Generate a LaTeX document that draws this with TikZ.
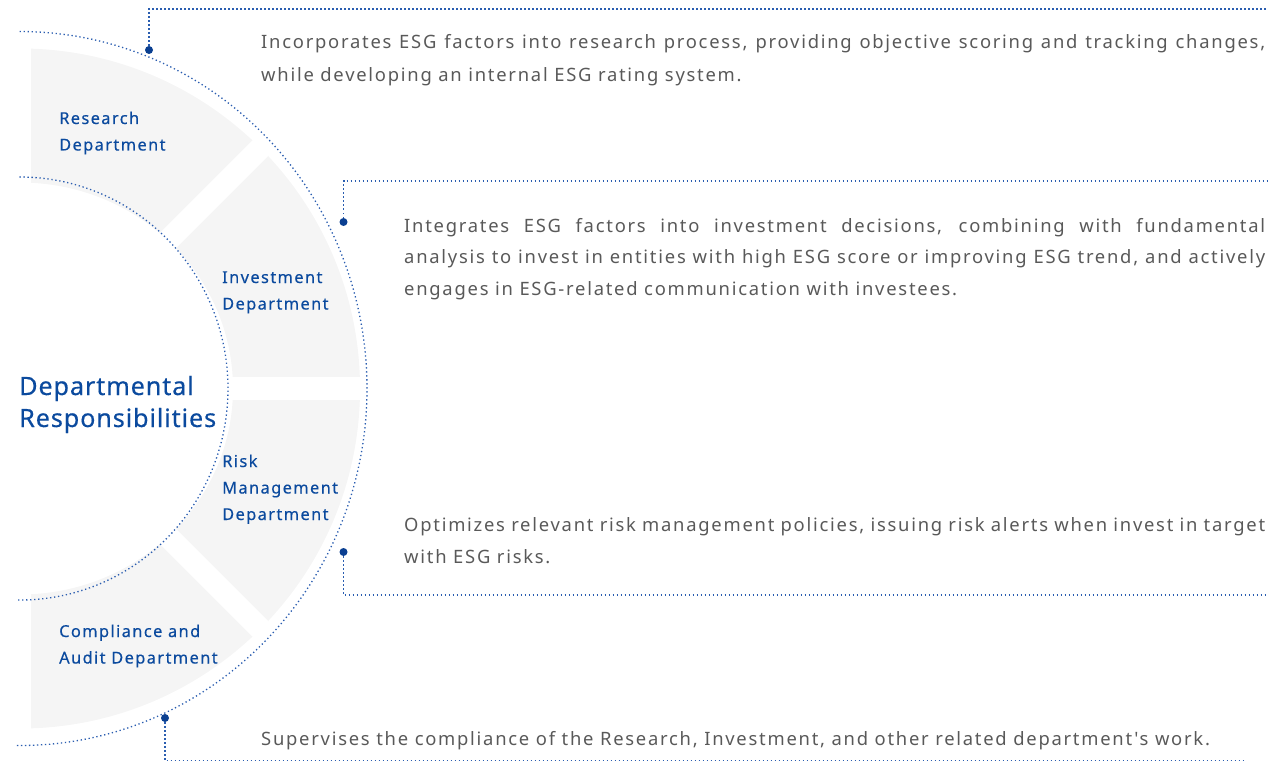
\documentclass[tikz,border=0pt]{standalone}
\usepackage{fontspec}
\setmainfont{Noto Sans}
\newfontfamily\descfont[LetterSpace=9.5]{Noto Sans}
\newfontfamily\deptfont[LetterSpace=8.5,FakeBold=0.35]{Noto Sans}
\newfontfamily\headfont[LetterSpace=3.5,FakeBold=0.35]{Noto Sans}
\definecolor{ringgray}{HTML}{F5F5F5}
\definecolor{textgray}{HTML}{595959}
\definecolor{labelblue}{HTML}{0B4A9E}
\definecolor{dotblue}{HTML}{2A5DB0}
\definecolor{dotdark}{HTML}{0A3F91}
\newcommand\jline[2]{\makebox[#1][s]{#2}}
\begin{document}
\begin{tikzpicture}[x=1pt,y=-1pt,
  dotline/.style={draw=dotblue, line width=1.3pt, dash pattern=on 1.3pt off 2.7pt},
  enddot/.style={circle, fill=dotdark, inner sep=0pt, minimum size=8pt},
  desc/.style={anchor=base west, inner sep=0pt, text=textgray},
  dept/.style={anchor=base west, inner sep=0pt, text=labelblue},
  gapband/.style={draw=white, line width=22pt}
]
\useasboundingbox (0,0) rectangle (1271,762);
% ring segments
\begin{scope}
  \clip (31,0) rectangle (1271,762);
  \fill[ringgray, even odd rule] (20,388.5) ellipse[x radius=340, y radius=340]
        (20,388.5) ellipse[x radius=213, y radius=206];
\end{scope}
\draw[gapband, line width=23pt] (20,388.5) -- (400,388.5);
\draw[gapband] (20,388.5) -- ++(45:420);
\draw[gapband] (20,388.5) -- ++(-45:420);
% dotted arcs
\draw[dotline] (20,388.5) ++(90.5:347 and 357) arc[start angle=90.5, end angle=-90.5, x radius=347, y radius=357];
\draw[dotline] (20,388.5) ++(90.5:208 and 211.5) arc[start angle=90.5, end angle=-90.5, x radius=208, y radius=211.5];
% title
\node[dept, font=\headfont\fontsize{25.2pt}{32pt}\selectfont] (title) at (19,395)
  {\parbox[t]{260pt}{Departmental\\Responsibilities}};
% department labels
\node[dept, font=\deptfont\fontsize{16.4pt}{26.5pt}\selectfont] (research) at (59,124)
  {\parbox[t]{160pt}{Research\\Department}};
\node[dept, font=\deptfont\fontsize{16.4pt}{26.5pt}\selectfont] (invest) at (222,283)
  {\parbox[t]{160pt}{Investment\\Department}};
\node[dept, font=\deptfont\fontsize{16.4pt}{26.5pt}\selectfont] (risk) at (222,467)
  {\parbox[t]{160pt}{Risk\\Management\\Department}};
\node[dept, font=\deptfont\fontsize{16.4pt}{26.5pt}\selectfont] (comp) at (59,637)
  {\parbox[t]{200pt}{Compliance and\\Audit Department}};
% descriptions
\node[desc, font=\descfont\fontsize{18.4pt}{32.5pt}\selectfont] (t1) at (261,49)
  {\parbox[t]{1010pt}{\jline{1004pt}{Incorporates ESG factors into research process, providing objective scoring and tracking changes,}\\while developing an internal ESG rating system.}};
\node[desc, font=\descfont\fontsize{18.4pt}{31.5pt}\selectfont] (t2) at (404,232)
  {\parbox[t]{870pt}{\jline{861pt}{Integrates ESG factors into investment decisions, combining with fundamental}\\\jline{861pt}{analysis to invest in entities with high ESG score or improving ESG trend, and actively}\\engages in ESG-related communication with investees.}};
\node[desc, font=\descfont\fontsize{18.4pt}{32pt}\selectfont] (t3) at (404,531)
  {\parbox[t]{870pt}{\jline{861pt}{Optimizes relevant risk management policies, issuing risk alerts when invest in target}\\with ESG risks.}};
\node[desc, font=\descfont\fontsize{18.4pt}{32pt}\selectfont] (t4) at (261,745)
  {Supervises the compliance of the Research, Investment, and other related department's work.};
% connectors
\node[enddot] (d1) at (149,50) {};
\coordinate (c1) at (149,9);
\coordinate (e1) at (1267,9);
\draw[dotline] (d1) -- (c1) -- (e1);
\node[enddot] (d2) at (343.5,222) {};
\coordinate (c2) at (343.5,181);
\coordinate (e2) at (1267,181);
\draw[dotline] (d2) -- (c2) -- (e2);
\node[enddot] (d3) at (343.5,552) {};
\coordinate (c3) at (343.5,595);
\coordinate (e3) at (1267,595);
\draw[dotline] (d3) -- (c3) -- (e3);
\node[enddot] (d4) at (165,718) {};
\coordinate (c4) at (165,760.5);
\coordinate (e4) at (1243,760.5);
\draw[dotline] (d4) -- (c4) -- (e4);
\end{tikzpicture}
\end{document}
